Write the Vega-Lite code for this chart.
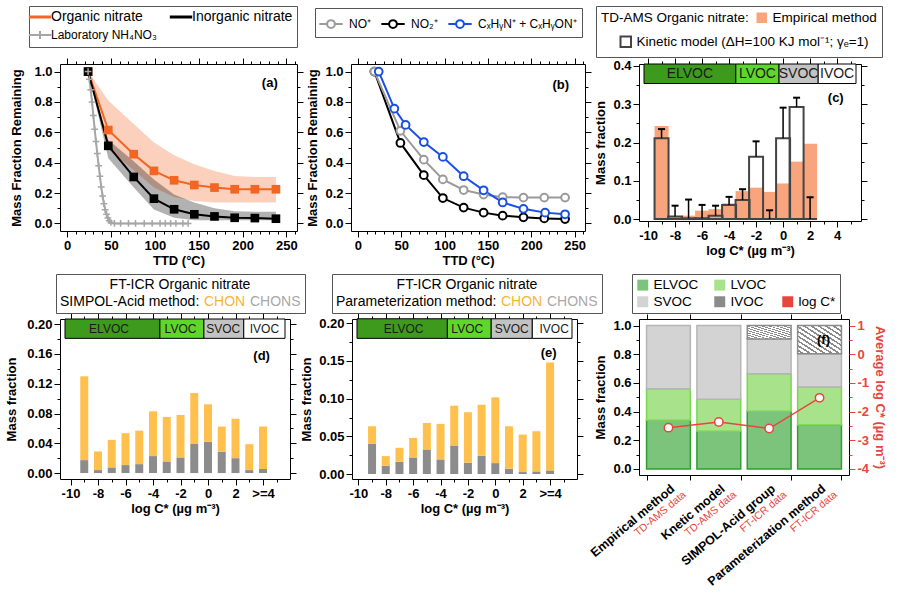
{
"padding": 5,
"background": "white",
"config": {
 "font": "Liberation Sans",
 "view": {"stroke": "#000000", "strokeWidth": 1},
 "axis": {"domain": false, "grid": false, "labelFont": "Liberation Sans", "labelFontSize": 13, "labelFontWeight": "bold", "labelColor": "#000000", "labelPadding": 2, "labelFlush": false, "labelOverlap": false, "tickColor": "#000000", "tickWidth": 1, "titleFont": "Liberation Sans", "titleFontSize": 13, "titleFontWeight": "bold", "titleColor": "#000000"},
 "legend": {"labelFont": "Liberation Sans", "labelFontSize": 13.5, "labelColor": "#000000", "labelLimit": 500, "titleFont": "Liberation Sans", "titleColor": "#000000", "titleFontWeight": "normal", "titleFontSize": 13.5, "strokeColor": "#555555", "fillColor": "#ffffff", "padding": 4, "orient": "none"}
},
"datasets": {
 "a": [
  {"s":"Laboratory NH₄NO₃","T":24,"v":1.0},{"s":"Laboratory NH₄NO₃","T":25.5,"v":0.95},{"s":"Laboratory NH₄NO₃","T":27,"v":0.88},{"s":"Laboratory NH₄NO₃","T":28.5,"v":0.8},{"s":"Laboratory NH₄NO₃","T":30,"v":0.71},{"s":"Laboratory NH₄NO₃","T":31.5,"v":0.62},{"s":"Laboratory NH₄NO₃","T":33,"v":0.54},{"s":"Laboratory NH₄NO₃","T":34.5,"v":0.46},{"s":"Laboratory NH₄NO₃","T":36,"v":0.38},{"s":"Laboratory NH₄NO₃","T":37.5,"v":0.31},{"s":"Laboratory NH₄NO₃","T":39,"v":0.24},{"s":"Laboratory NH₄NO₃","T":40.5,"v":0.18},{"s":"Laboratory NH₄NO₃","T":42,"v":0.13},{"s":"Laboratory NH₄NO₃","T":43.5,"v":0.09},{"s":"Laboratory NH₄NO₃","T":45,"v":0.06},{"s":"Laboratory NH₄NO₃","T":46.5,"v":0.035},{"s":"Laboratory NH₄NO₃","T":48,"v":0.018},{"s":"Laboratory NH₄NO₃","T":50,"v":0.006},{"s":"Laboratory NH₄NO₃","T":54,"v":0},{"s":"Laboratory NH₄NO₃","T":61,"v":0},{"s":"Laboratory NH₄NO₃","T":70,"v":0},{"s":"Laboratory NH₄NO₃","T":78,"v":0},{"s":"Laboratory NH₄NO₃","T":88,"v":0},{"s":"Laboratory NH₄NO₃","T":97,"v":0},{"s":"Laboratory NH₄NO₃","T":106,"v":0},{"s":"Laboratory NH₄NO₃","T":112,"v":0},{"s":"Laboratory NH₄NO₃","T":118,"v":0},{"s":"Laboratory NH₄NO₃","T":124,"v":0},{"s":"Laboratory NH₄NO₃","T":132,"v":0},{"s":"Laboratory NH₄NO₃","T":138,"v":0},
  {"s":"Organic nitrate","T":24,"v":1.0,"lo":1.0,"hi":1.0},{"s":"Organic nitrate","T":47,"v":0.615,"lo":0.49,"hi":0.81},{"s":"Organic nitrate","T":76,"v":0.456,"lo":0.35,"hi":0.654},{"s":"Organic nitrate","T":99,"v":0.346,"lo":0.236,"hi":0.533},{"s":"Organic nitrate","T":122,"v":0.284,"lo":0.174,"hi":0.449},{"s":"Organic nitrate","T":145,"v":0.253,"lo":0.148,"hi":0.39},{"s":"Organic nitrate","T":168,"v":0.236,"lo":0.137,"hi":0.346},{"s":"Organic nitrate","T":191,"v":0.225,"lo":0.137,"hi":0.313},{"s":"Organic nitrate","T":214,"v":0.225,"lo":0.137,"hi":0.306},{"s":"Organic nitrate","T":238,"v":0.225,"lo":0.137,"hi":0.306},
  {"s":"Inorganic nitrate","T":24,"v":1.0,"lo":1.0,"hi":1.0},{"s":"Inorganic nitrate","T":47,"v":0.511,"lo":0.43,"hi":0.55},{"s":"Inorganic nitrate","T":76,"v":0.306,"lo":0.236,"hi":0.41},{"s":"Inorganic nitrate","T":99,"v":0.163,"lo":0.092,"hi":0.29},{"s":"Inorganic nitrate","T":122,"v":0.093,"lo":0.037,"hi":0.19},{"s":"Inorganic nitrate","T":145,"v":0.06,"lo":0.02,"hi":0.137},{"s":"Inorganic nitrate","T":168,"v":0.046,"lo":0.02,"hi":0.1},{"s":"Inorganic nitrate","T":191,"v":0.037,"lo":0.02,"hi":0.08},{"s":"Inorganic nitrate","T":214,"v":0.035,"lo":0.02,"hi":0.077},{"s":"Inorganic nitrate","T":238,"v":0.031,"lo":0.02,"hi":0.077}
 ],
 "b": [
  {"s":"NO₂⁺","T":19,"v":1.0},{"s":"NO₂⁺","T":49,"v":0.53},{"s":"NO₂⁺","T":76,"v":0.318},{"s":"NO₂⁺","T":98,"v":0.167},{"s":"NO₂⁺","T":122,"v":0.104},{"s":"NO₂⁺","T":145,"v":0.071},{"s":"NO₂⁺","T":167,"v":0.051},{"s":"NO₂⁺","T":191,"v":0.04},{"s":"NO₂⁺","T":215,"v":0.033},{"s":"NO₂⁺","T":239,"v":0.029},
  {"s":"NO⁺","T":19,"v":1.0},{"s":"NO⁺","T":49,"v":0.61},{"s":"NO⁺","T":76,"v":0.42},{"s":"NO⁺","T":98,"v":0.29},{"s":"NO⁺","T":122,"v":0.22},{"s":"NO⁺","T":145,"v":0.19},{"s":"NO⁺","T":167,"v":0.173},{"s":"NO⁺","T":191,"v":0.17},{"s":"NO⁺","T":215,"v":0.17},{"s":"NO⁺","T":239,"v":0.17},
  {"s":"CₓHᵧN⁺ + CₓHᵧON⁺","T":24,"v":1.0},{"s":"CₓHᵧN⁺ + CₓHᵧON⁺","T":42,"v":0.756},{"s":"CₓHᵧN⁺ + CₓHᵧON⁺","T":55,"v":0.649},{"s":"CₓHᵧN⁺ + CₓHᵧON⁺","T":76,"v":0.536},{"s":"CₓHᵧN⁺ + CₓHᵧON⁺","T":98,"v":0.438},{"s":"CₓHᵧN⁺ + CₓHᵧON⁺","T":122,"v":0.311},{"s":"CₓHᵧN⁺ + CₓHᵧON⁺","T":145,"v":0.218},{"s":"CₓHᵧN⁺ + CₓHᵧON⁺","T":167,"v":0.138},{"s":"CₓHᵧN⁺ + CₓHᵧON⁺","T":191,"v":0.096},{"s":"CₓHᵧN⁺ + CₓHᵧON⁺","T":216,"v":0.071},{"s":"CₓHᵧN⁺ + CₓHᵧON⁺","T":239,"v":0.06}
 ],
 "c": [
  {"x":-9,"m":"Empirical method","v":0.243},{"x":-8,"m":"Empirical method","v":0.006},{"x":-7,"m":"Empirical method","v":0.009},{"x":-6,"m":"Empirical method","v":0.022},{"x":-5,"m":"Empirical method","v":0.026},{"x":-4,"m":"Empirical method","v":0.041},{"x":-3,"m":"Empirical method","v":0.073},{"x":-2,"m":"Empirical method","v":0.082},{"x":-1,"m":"Empirical method","v":0.071},{"x":0,"m":"Empirical method","v":0.093},{"x":1,"m":"Empirical method","v":0.15},{"x":2,"m":"Empirical method","v":0.197},
  {"x":-9,"m":"Kinetic model (ΔH=100 KJ mol⁻¹; γₑ=1)","v":0.211},{"x":-8,"m":"Kinetic model (ΔH=100 KJ mol⁻¹; γₑ=1)","v":0.007},{"x":-7,"m":"Kinetic model (ΔH=100 KJ mol⁻¹; γₑ=1)","v":0.002},{"x":-6,"m":"Kinetic model (ΔH=100 KJ mol⁻¹; γₑ=1)","v":0.002},{"x":-5,"m":"Kinetic model (ΔH=100 KJ mol⁻¹; γₑ=1)","v":0.009},{"x":-4,"m":"Kinetic model (ΔH=100 KJ mol⁻¹; γₑ=1)","v":0.037},{"x":-3,"m":"Kinetic model (ΔH=100 KJ mol⁻¹; γₑ=1)","v":0.05},{"x":-2,"m":"Kinetic model (ΔH=100 KJ mol⁻¹; γₑ=1)","v":0.163},{"x":-1,"m":"Kinetic model (ΔH=100 KJ mol⁻¹; γₑ=1)","v":0.0},{"x":0,"m":"Kinetic model (ΔH=100 KJ mol⁻¹; γₑ=1)","v":0.211},{"x":1,"m":"Kinetic model (ΔH=100 KJ mol⁻¹; γₑ=1)","v":0.293},{"x":2,"m":"Kinetic model (ΔH=100 KJ mol⁻¹; γₑ=1)","v":0.0}
 ],
 "c_err": [
  {"x":-9,"lo":0.211,"hi":0.235},{"x":-8,"lo":0.007,"hi":0.035},{"x":-7,"lo":0.002,"hi":0.051},{"x":-6,"lo":0.002,"hi":0.037},{"x":-5,"lo":0.009,"hi":0.035},{"x":-4,"lo":0.037,"hi":0.058},{"x":-3,"lo":0.05,"hi":0.078},{"x":-2,"lo":0.163,"hi":0.203},{"x":-1,"lo":0.0,"hi":0.023},{"x":0,"lo":0.211,"hi":0.291},{"x":1,"lo":0.293,"hi":0.317},{"x":2,"lo":0.0,"hi":0.057}
 ],
 "c_band": [
  {"name":"ELVOC","x0":-10.3,"x1":-3.5,"xm":-6.9,"y0":0.354,"y1":0.405,"ym":0.379},
  {"name":"LVOC","x0":-3.5,"x1":-0.3,"xm":-1.9,"y0":0.354,"y1":0.405,"ym":0.379},
  {"name":"SVOC","x0":-0.3,"x1":2.6,"xm":1.15,"y0":0.354,"y1":0.405,"ym":0.379},
  {"name":"IVOC","x0":2.6,"x1":5.4,"xm":4.0,"y0":0.354,"y1":0.405,"ym":0.379}
 ],
 "d": [
  {"x":-9,"g":"CHONS","v":0.0174},{"x":-9,"g":"CHON","v":0.1126},{"x":-8,"g":"CHONS","v":0.004},{"x":-8,"g":"CHON","v":0.025},{"x":-7,"g":"CHONS","v":0.0076},{"x":-7,"g":"CHON","v":0.037},{"x":-6,"g":"CHONS","v":0.0107},{"x":-6,"g":"CHON","v":0.0429},{"x":-5,"g":"CHONS","v":0.012},{"x":-5,"g":"CHON","v":0.045},{"x":-4,"g":"CHONS","v":0.0228},{"x":-4,"g":"CHON","v":0.0602},{"x":-3,"g":"CHONS","v":0.0156},{"x":-3,"g":"CHON","v":0.0598},{"x":-2,"g":"CHONS","v":0.021},{"x":-2,"g":"CHON","v":0.057},{"x":-1,"g":"CHONS","v":0.039},{"x":-1,"g":"CHON","v":0.0686},{"x":0,"g":"CHONS","v":0.042},{"x":0,"g":"CHON","v":0.0504},{"x":1,"g":"CHONS","v":0.0286},{"x":1,"g":"CHON","v":0.0339},{"x":2,"g":"CHONS","v":0.02},{"x":2,"g":"CHON","v":0.053},{"x":3,"g":"CHONS","v":0.004},{"x":3,"g":"CHON","v":0.0348},{"x":4,"g":"CHONS","v":0.0054},{"x":4,"g":"CHON","v":0.0571}
 ],
 "d_band": [
  {"name":"ELVOC","x0":-10.4,"x1":-3.5,"xm":-7.2,"y0":0.181,"y1":0.207,"ym":0.194},
  {"name":"LVOC","x0":-3.5,"x1":-0.3,"xm":-2.0,"y0":0.181,"y1":0.207,"ym":0.194},
  {"name":"SVOC","x0":-0.3,"x1":2.6,"xm":1.1,"y0":0.181,"y1":0.207,"ym":0.194},
  {"name":"IVOC","x0":2.6,"x1":5.6,"xm":4.1,"y0":0.181,"y1":0.207,"ym":0.194}
 ],
 "e": [
  {"x":-9,"g":"CHONS","v":0.04},{"x":-9,"g":"CHON","v":0.0234},{"x":-8,"g":"CHONS","v":0.011},{"x":-8,"g":"CHON","v":0.0128},{"x":-7,"g":"CHONS","v":0.0163},{"x":-7,"g":"CHON","v":0.0185},{"x":-6,"g":"CHONS","v":0.022},{"x":-6,"g":"CHON","v":0.026},{"x":-5,"g":"CHONS","v":0.0326},{"x":-5,"g":"CHON","v":0.0352},{"x":-4,"g":"CHONS","v":0.0194},{"x":-4,"g":"CHON","v":0.0471},{"x":-3,"g":"CHONS","v":0.0379},{"x":-3,"g":"CHON","v":0.0528},{"x":-2,"g":"CHONS","v":0.015},{"x":-2,"g":"CHON","v":0.067},{"x":-1,"g":"CHONS","v":0.0242},{"x":-1,"g":"CHON","v":0.0678},{"x":0,"g":"CHONS","v":0.0145},{"x":0,"g":"CHON","v":0.0873},{"x":1,"g":"CHONS","v":0.007},{"x":1,"g":"CHON","v":0.0564},{"x":2,"g":"CHONS","v":0.0026},{"x":2,"g":"CHON","v":0.0498},{"x":3,"g":"CHONS","v":0.0035},{"x":3,"g":"CHON","v":0.0533},{"x":4,"g":"CHONS","v":0.0048},{"x":4,"g":"CHON","v":0.1432}
 ],
 "e_band": [
  {"name":"ELVOC","x0":-10.1,"x1":-3.5,"xm":-6.7,"y0":0.18,"y1":0.206,"ym":0.193},
  {"name":"LVOC","x0":-3.5,"x1":-0.3,"xm":-2.05,"y0":0.18,"y1":0.206,"ym":0.193},
  {"name":"SVOC","x0":-0.3,"x1":2.7,"xm":1.2,"y0":0.18,"y1":0.206,"ym":0.193},
  {"name":"IVOC","x0":2.7,"x1":5.6,"xm":4.3,"y0":0.18,"y1":0.206,"ym":0.193}
 ],
 "f": [
  {"m":"Empirical method","seg":"ELVOC","k":1,"v":0.34},{"m":"Empirical method","seg":"LVOC","k":2,"v":0.22},{"m":"Empirical method","seg":"SVOC","k":3,"v":0.44},
  {"m":"Knetic model","seg":"ELVOC","k":1,"v":0.264},{"m":"Knetic model","seg":"LVOC","k":2,"v":0.222},{"m":"Knetic model","seg":"SVOC","k":3,"v":0.514},
  {"m":"SIMPOL-Acid group","seg":"ELVOC","k":1,"v":0.403},{"m":"SIMPOL-Acid group","seg":"LVOC","k":2,"v":0.261},{"m":"SIMPOL-Acid group","seg":"SVOC","k":3,"v":0.243},{"m":"SIMPOL-Acid group","seg":"IVOC","k":4,"v":0.093},
  {"m":"Parameterization method","seg":"ELVOC","k":1,"v":0.306},{"m":"Parameterization method","seg":"LVOC","k":2,"v":0.266},{"m":"Parameterization method","seg":"SVOC","k":3,"v":0.231},{"m":"Parameterization method","seg":"IVOC","k":4,"v":0.197}
 ],
 "f_line": [
  {"m":"Empirical method","lc":-2.56},{"m":"Knetic model","lc":-2.36},{"m":"SIMPOL-Acid group","lc":-2.59},{"m":"Parameterization method","lc":-1.52}
 ]
},
"spacing": 5,
"resolve": {"scale": {"color": "independent", "fill": "independent", "stroke": "independent"}, "legend": {"color": "independent", "fill": "independent", "stroke": "independent"}},
"vconcat": [
 {"hconcat": [
  {
   "width": 237, "height": 167,
   "data": {"name": "a"},
   "layer": [
    {"transform": [{"filter": "isValid(datum.lo)"}],
     "mark": {"type": "area", "fillOpacity": 0.3},
     "encoding": {
      "x": {"field": "T", "type": "quantitative", "scale": {"domain": [-8, 262], "nice": false, "zero": false},
            "axis": {"orient": "bottom", "values": [0,10,20,30,40,50,60,70,80,90,100,110,120,130,140,150,160,170,180,190,200,210,220,230,240,250,260], "labelExpr": "datum.value % 50 === 0 ? datum.label : ''", "tickSize": {"condition": {"test": "datum.value % 50 !== 0", "value": 3}, "value": 6}, "title": "TTD (°C)", "titlePadding": 2}},
      "y": {"field": "lo", "type": "quantitative", "scale": {"domain": [-0.05, 1.05], "nice": false, "zero": false},
            "axis": {"orient": "left", "values": [0,0.1,0.2,0.3,0.4,0.5,0.6,0.7,0.8,0.9,1], "labelExpr": "round(datum.value*10) % 2 === 0 ? format(datum.value, '.1f') : ''", "tickSize": {"condition": {"test": "round(datum.value*10) % 2 !== 0", "value": 3}, "value": 6}, "title": "Mass Fraction Remaining", "titlePadding": 10}},
      "y2": {"field": "hi"},
      "fill": {"field": "s", "type": "nominal", "scale": {"domain": ["Organic nitrate", "Inorganic nitrate"], "range": ["#f26522", "#000000"]}, "legend": null}
     }},
    {"mark": {"type": "line", "strokeWidth": 2},
     "encoding": {
      "x": {"field": "T", "type": "quantitative", "scale": {"domain": [-8, 262], "nice": false, "zero": false},
            "axis": {"orient": "top", "values": [0,10,20,30,40,50,60,70,80,90,100,110,120,130,140,150,160,170,180,190,200,210,220,230,240,250,260], "labels": false, "tickSize": {"condition": {"test": "datum.value % 50 !== 0", "value": 3}, "value": 6}, "title": null}},
      "y": {"field": "v", "type": "quantitative", "scale": {"domain": [-0.05, 1.05], "nice": false, "zero": false},
            "axis": {"orient": "right", "values": [0,0.1,0.2,0.3,0.4,0.5,0.6,0.7,0.8,0.9,1], "labels": false, "tickSize": {"condition": {"test": "round(datum.value*10) % 2 !== 0", "value": 3}, "value": 6}, "title": null}},
      "color": {"field": "s", "type": "nominal", "scale": {"domain": ["Organic nitrate", "Inorganic nitrate", "Laboratory NH₄NO₃"], "range": ["#f26522", "#000000", "#a6a6a6"]},
        "legend": {"orient": "none", "legendX": -31, "legendY": -58, "title": null, "columns": 2, "direction": "horizontal", "symbolType": "stroke", "symbolSize": 500, "symbolStrokeWidth": 3, "labelFontSize": 14, "columnPadding": 6, "rowPadding": 3, "padding": 4,
          "encode": {"symbols": {"update": {
            "shape": {"signal": "datum.value === 'Laboratory NH₄NO₃' ? 'M-1,0L1,0M0,-0.35L0,0.35' : 'stroke'"},
            "strokeWidth": {"signal": "datum.value === 'Laboratory NH₄NO₃' ? 2 : 3"},
            "stroke": {"signal": "datum.value === 'Organic nitrate' ? '#f26522' : datum.value === 'Inorganic nitrate' ? '#000000' : '#a6a6a6'"},
            "fill": {"value": "transparent"},
            "opacity": {"value": 1}}},
           "labels": {"update": {"fontSize": {"signal": "datum.value === 'Laboratory NH₄NO₃' ? 12 : 14"}}}}}}
     }},
    {"transform": [{"filter": "datum.s !== 'Laboratory NH₄NO₃'"}],
     "mark": {"type": "point", "shape": "square", "filled": true, "size": 75, "opacity": 1},
     "encoding": {
      "x": {"field": "T", "type": "quantitative", "scale": {"domain": [-8, 262], "nice": false, "zero": false}, "axis": null},
      "y": {"field": "v", "type": "quantitative", "scale": {"domain": [-0.05, 1.05], "nice": false, "zero": false}, "axis": null},
      "color": {"field": "s", "type": "nominal"}
     }},
    {"transform": [{"filter": "datum.s === 'Laboratory NH₄NO₃'"}],
     "mark": {"type": "point", "shape": "M-1,0L1,0M0,-1L0,1", "filled": false, "size": 45, "strokeWidth": 1.5, "opacity": 1},
     "encoding": {
      "x": {"field": "T", "type": "quantitative", "scale": {"domain": [-8, 262], "nice": false, "zero": false}, "axis": null},
      "y": {"field": "v", "type": "quantitative", "scale": {"domain": [-0.05, 1.05], "nice": false, "zero": false}, "axis": null},
      "color": {"field": "s", "type": "nominal"}
     }},
    {"data": {"values": [{}]},
     "mark": {"type": "text", "text": "(a)", "fontWeight": "bold", "fontSize": 13},
     "encoding": {"x": {"datum": 231, "type": "quantitative", "axis": null}, "y": {"datum": 0.925, "type": "quantitative", "axis": null}}}
   ],
   "resolve": {"axis": {"x": "independent", "y": "independent"}}
  },
  {
   "width": 234, "height": 167,
   "data": {"name": "b"},
   "layer": [
    {"mark": {"type": "line", "strokeWidth": 2},
     "encoding": {
      "x": {"field": "T", "type": "quantitative", "scale": {"domain": [-8, 262], "nice": false, "zero": false},
            "axis": {"orient": "bottom", "values": [0,10,20,30,40,50,60,70,80,90,100,110,120,130,140,150,160,170,180,190,200,210,220,230,240,250,260], "labelExpr": "datum.value % 50 === 0 ? datum.label : ''", "tickSize": {"condition": {"test": "datum.value % 50 !== 0", "value": 3}, "value": 6}, "title": "TTD (°C)", "titlePadding": 2}},
      "y": {"field": "v", "type": "quantitative", "scale": {"domain": [-0.05, 1.05], "nice": false, "zero": false},
            "axis": {"orient": "left", "values": [0,0.1,0.2,0.3,0.4,0.5,0.6,0.7,0.8,0.9,1], "labelExpr": "round(datum.value*10) % 2 === 0 ? format(datum.value, '.1f') : ''", "tickSize": {"condition": {"test": "round(datum.value*10) % 2 !== 0", "value": 3}, "value": 6}, "title": "Mass Fraction Remaining", "titlePadding": 5}},
      "stroke": {"field": "s", "type": "nominal", "scale": {"domain": ["NO⁺", "NO₂⁺", "CₓHᵧN⁺ + CₓHᵧON⁺"], "range": ["#9a9a9a", "#000000", "#1a4fe6"]},
        "legend": {"orient": "none", "legendX": -36, "legendY": -56, "title": null, "direction": "horizontal", "columns": 3, "symbolType": "M-1.2,0L-0.4,0M0.4,0L1.2,0M-0.4,0A0.4,0.4,0,1,0,0.4,0A0.4,0.4,0,1,0,-0.4,0", "symbolSize": 380, "symbolStrokeWidth": 2, "labelFontSize": 12, "labelOffset": 7, "columnPadding": 6, "padding": 5,
          "encode": {"symbols": {"update": {
            "fill": {"value": "#ffffff"},
            "stroke": {"signal": "datum.value === 'NO⁺' ? '#9a9a9a' : datum.value === 'NO₂⁺' ? '#000000' : '#1a4fe6'"},
            "strokeWidth": {"value": 2},
            "opacity": {"value": 1}}}}}}
     }},
    {"mark": {"type": "point", "shape": "circle", "filled": true, "fill": "#ffffff", "size": 60, "strokeWidth": 2, "opacity": 1},
     "encoding": {
      "x": {"field": "T", "type": "quantitative", "scale": {"domain": [-8, 262], "nice": false, "zero": false},
            "axis": {"orient": "top", "values": [0,10,20,30,40,50,60,70,80,90,100,110,120,130,140,150,160,170,180,190,200,210,220,230,240,250,260], "labels": false, "tickSize": {"condition": {"test": "datum.value % 50 !== 0", "value": 3}, "value": 6}, "title": null}},
      "y": {"field": "v", "type": "quantitative", "scale": {"domain": [-0.05, 1.05], "nice": false, "zero": false},
            "axis": {"orient": "right", "values": [0,0.1,0.2,0.3,0.4,0.5,0.6,0.7,0.8,0.9,1], "labels": false, "tickSize": {"condition": {"test": "round(datum.value*10) % 2 !== 0", "value": 3}, "value": 6}, "title": null}},
      "stroke": {"field": "s", "type": "nominal"}
     }},
    {"data": {"values": [{}]},
     "mark": {"type": "text", "text": "(b)", "fontWeight": "bold", "fontSize": 13},
     "encoding": {"x": {"datum": 234, "type": "quantitative", "axis": null}, "y": {"datum": 0.91, "type": "quantitative", "axis": null}}}
   ],
   "resolve": {"axis": {"x": "independent", "y": "independent"}}
  },
  {
   "width": 222, "height": 157,
   "layer": [
    {"data": {"name": "c_band"},
     "mark": {"type": "rect", "stroke": "#000000", "strokeWidth": 1},
     "encoding": {
      "x": {"field": "x0", "type": "quantitative", "scale": {"domain": [-10.3, 5.4], "nice": false, "zero": false},
            "axis": {"orient": "top", "values": [-10,-9,-8,-7,-6,-5,-4,-3,-2,-1,0,1,2,3,4,5], "labels": false, "tickSize": {"condition": {"test": "datum.value % 2 !== 0", "value": 3}, "value": 6}, "title": null}},
      "x2": {"field": "x1"},
      "y": {"field": "y0", "type": "quantitative", "scale": {"domain": [-0.005, 0.405], "nice": false, "zero": false},
            "axis": {"orient": "right", "values": [0,0.05,0.1,0.15,0.2,0.25,0.3,0.35,0.4], "labels": false, "tickSize": {"condition": {"test": "round(datum.value*100) % 10 !== 0", "value": 3}, "value": 6}, "title": null}},
      "y2": {"field": "y1"},
      "fill": {"field": "name", "type": "nominal", "scale": {"domain": ["ELVOC", "LVOC", "SVOC", "IVOC"], "range": ["#3d9a1d", "#5fd62a", "#c3c3c3", "#ffffff"]}, "legend": null}
     }},
    {"data": {"name": "c_band"},
     "mark": {"type": "text", "fontSize": 14, "color": "#1a1a1a"},
     "encoding": {
      "x": {"field": "xm", "type": "quantitative", "axis": null},
      "y": {"field": "ym", "type": "quantitative", "axis": null},
      "text": {"field": "name"}
     }},
    {"data": {"name": "c"},
     "transform": [{"filter": "datum.m === 'Empirical method'"}],
     "mark": {"type": "bar", "width": 14, "opacity": 1},
     "encoding": {
      "x": {"field": "x", "type": "quantitative", "scale": {"domain": [-10.3, 5.4], "nice": false, "zero": false},
            "axis": {"orient": "bottom", "values": [-10,-9,-8,-7,-6,-5,-4,-3,-2,-1,0,1,2,3,4,5], "labelExpr": "datum.value % 2 === 0 && datum.value <= 4 ? datum.value + '' : ''", "tickSize": {"condition": {"test": "datum.value % 2 !== 0", "value": 3}, "value": 6}, "title": "log C* (µg m⁻³)", "titlePadding": 2}},
      "y": {"field": "v", "type": "quantitative", "scale": {"domain": [-0.005, 0.405], "nice": false, "zero": false},
            "axis": {"orient": "left", "values": [0,0.05,0.1,0.15,0.2,0.25,0.3,0.35,0.4], "labelExpr": "round(datum.value*100) % 10 === 0 ? format(datum.value, '.1f') : ''", "tickSize": {"condition": {"test": "round(datum.value*100) % 10 !== 0", "value": 3}, "value": 6}, "title": "Mass fraction", "titlePadding": 5}},
      "color": {"field": "m", "type": "nominal", "scale": {"domain": ["Empirical method", " "], "range": ["#f8a47c", "#ffffff"]},
        "legend": {"orient": "none", "legendX": -43, "legendY": -58, "title": "TD-AMS Organic nitrate:", "titleOrient": "left", "titleAnchor": "start", "titleFontSize": 13.5, "titlePadding": 6, "direction": "vertical", "columns": 1, "symbolType": "square", "symbolSize": 110, "labelFontSize": 13.5, "rowPadding": 12, "padding": 5,
          "encode": {"symbols": {"update": {"opacity": {"signal": "datum.value === ' ' ? 0 : 1"}}}}}}
     }},
    {"data": {"name": "c"},
     "transform": [{"filter": "datum.m !== 'Empirical method'"}],
     "mark": {"type": "bar", "width": 14, "filled": false, "strokeWidth": 2, "opacity": 1},
     "encoding": {
      "x": {"field": "x", "type": "quantitative", "axis": null},
      "y": {"field": "v", "type": "quantitative", "axis": null},
      "stroke": {"field": "m", "type": "nominal", "scale": {"domain": ["Kinetic model (ΔH=100 KJ mol⁻¹; γₑ=1)"], "range": ["#444444"]},
        "legend": {"orient": "none", "legendX": -20, "legendY": -29, "title": null, "symbolType": "square", "symbolSize": 110, "symbolStrokeWidth": 2, "labelFontSize": 13.5, "padding": 0, "strokeColor": "transparent", "fillColor": "transparent"}}
     }},
    {"data": {"name": "c_err"},
     "mark": {"type": "rule", "color": "#000000", "strokeWidth": 1.5},
     "encoding": {
      "x": {"field": "x", "type": "quantitative", "axis": null},
      "y": {"field": "lo", "type": "quantitative", "axis": null},
      "y2": {"field": "hi"}
     }},
    {"data": {"name": "c_err"},
     "mark": {"type": "tick", "orient": "horizontal", "color": "#000000", "size": 7, "thickness": 2, "opacity": 1},
     "encoding": {
      "x": {"field": "x", "type": "quantitative", "axis": null},
      "y": {"field": "hi", "type": "quantitative", "axis": null}
     }},
    {"data": {"values": [{}]},
     "mark": {"type": "text", "text": "(c)", "fontWeight": "bold", "fontSize": 13},
     "encoding": {"x": {"datum": 3.9, "type": "quantitative", "axis": null}, "y": {"datum": 0.315, "type": "quantitative", "axis": null}}}
   ],
   "resolve": {"axis": {"x": "independent", "y": "independent"}}
  }
 ], "spacing": 54, "bounds": "flush",
 "resolve": {"scale": {"color": "independent", "fill": "independent", "stroke": "independent"}, "legend": {"color": "independent", "fill": "independent", "stroke": "independent"}}},
 {"hconcat": [
  {
   "width": 230, "height": 160,
   "layer": [
    {"data": {"name": "d_band"},
     "mark": {"type": "rect", "stroke": "#000000", "strokeWidth": 1},
     "encoding": {
      "x": {"field": "x0", "type": "quantitative", "scale": {"domain": [-10.4, 5.6], "nice": false, "zero": false},
            "axis": {"orient": "top", "values": [-10,-9,-8,-7,-6,-5,-4,-3,-2,-1,0,1,2,3,4,5], "labels": false, "tickSize": {"condition": {"test": "datum.value % 2 !== 0", "value": 3}, "value": 6}, "title": null}},
      "x2": {"field": "x1"},
      "y": {"field": "y0", "type": "quantitative", "scale": {"domain": [-0.008, 0.207], "nice": false, "zero": false},
            "axis": {"orient": "right", "values": [0,0.02,0.04,0.06,0.08,0.1,0.12,0.14,0.16,0.18,0.2], "labels": false, "tickSize": {"condition": {"test": "round(datum.value*100) % 4 !== 0", "value": 3}, "value": 6}, "title": null}},
      "y2": {"field": "y1"},
      "fill": {"field": "name", "type": "nominal", "scale": {"domain": ["ELVOC", "LVOC", "SVOC", "IVOC"], "range": ["#3d9a1d", "#5fd62a", "#c3c3c3", "#ffffff"]}, "legend": null}
     }},
    {"data": {"name": "d_band"},
     "mark": {"type": "text", "fontSize": 12, "color": "#1a1a1a"},
     "encoding": {
      "x": {"field": "xm", "type": "quantitative", "axis": null},
      "y": {"field": "ym", "type": "quantitative", "axis": null},
      "text": {"field": "name"}
     }},
    {"data": {"name": "d"},
     "mark": {"type": "bar", "width": 8, "opacity": 1},
     "encoding": {
      "x": {"field": "x", "type": "quantitative", "scale": {"domain": [-10.4, 5.6], "nice": false, "zero": false},
            "axis": {"orient": "bottom", "values": [-10,-9,-8,-7,-6,-5,-4,-3,-2,-1,0,1,2,3,4,5], "labelExpr": "datum.value === 4 ? '>=4' : (datum.value < 4 && datum.value % 2 === 0 ? datum.value + '' : '')", "tickSize": {"condition": {"test": "datum.value % 2 !== 0", "value": 3}, "value": 6}, "title": "log C* (µg m⁻³)", "titlePadding": 2}},
      "y": {"field": "v", "type": "quantitative", "stack": "zero", "scale": {"domain": [-0.008, 0.207], "nice": false, "zero": false},
            "axis": {"orient": "left", "values": [0,0.02,0.04,0.06,0.08,0.1,0.12,0.14,0.16,0.18,0.2], "labelExpr": "round(datum.value*100) % 4 === 0 ? format(datum.value, '.2f') : ''", "tickSize": {"condition": {"test": "round(datum.value*100) % 4 !== 0", "value": 3}, "value": 6}, "title": "Mass fraction", "titlePadding": 8}},
      "color": {"field": "g", "type": "nominal", "scale": {"domain": ["SIMPOL-Acid method:", "CHON", "CHONS"], "range": ["#000000", "#ffc04d", "#8c8c8c"]},
        "legend": {"orient": "none", "legendX": -4, "legendY": -45, "title": "FT-ICR Organic nitrate", "titleAnchor": "middle", "titleFontSize": 14, "titlePadding": 3, "direction": "horizontal", "columns": 3, "symbolSize": 0, "symbolOpacity": 0, "symbolStrokeWidth": 0, "labelOffset": 0, "columnPadding": 4, "labelFontSize": 14, "padding": 4,
          "encode": {"labels": {"update": {"dx": {"value": -14}, "fill": {"signal": "datum.value === 'CHON' ? '#f7b538' : datum.value === 'CHONS' ? '#a8a8a8' : '#000000'"}}}}}},
      "order": {"field": "g", "type": "nominal", "sort": "descending"}
     }},
    {"data": {"values": [{}]},
     "mark": {"type": "text", "text": "(d)", "fontWeight": "bold", "fontSize": 13},
     "encoding": {"x": {"datum": 3.9, "type": "quantitative", "axis": null}, "y": {"datum": 0.157, "type": "quantitative", "axis": null}}}
   ],
   "resolve": {"axis": {"x": "independent", "y": "independent"}}
  },
  {
   "width": 225, "height": 160,
   "layer": [
    {"data": {"name": "e_band"},
     "mark": {"type": "rect", "stroke": "#000000", "strokeWidth": 1},
     "encoding": {
      "x": {"field": "x0", "type": "quantitative", "scale": {"domain": [-10.1, 5.6], "nice": false, "zero": false},
            "axis": {"orient": "top", "values": [-10,-9,-8,-7,-6,-5,-4,-3,-2,-1,0,1,2,3,4,5], "labels": false, "tickSize": {"condition": {"test": "datum.value % 2 !== 0", "value": 3}, "value": 6}, "title": null}},
      "x2": {"field": "x1"},
      "y": {"field": "y0", "type": "quantitative", "scale": {"domain": [-0.0066, 0.2057], "nice": false, "zero": false},
            "axis": {"orient": "right", "values": [0,0.025,0.05,0.075,0.1,0.125,0.15,0.175,0.2], "labels": false, "tickSize": {"condition": {"test": "round(datum.value*1000) % 50 !== 0", "value": 3}, "value": 6}, "title": null}},
      "y2": {"field": "y1"},
      "fill": {"field": "name", "type": "nominal", "scale": {"domain": ["ELVOC", "LVOC", "SVOC", "IVOC"], "range": ["#3d9a1d", "#5fd62a", "#c3c3c3", "#ffffff"]}, "legend": null}
     }},
    {"data": {"name": "e_band"},
     "mark": {"type": "text", "fontSize": 12, "color": "#1a1a1a"},
     "encoding": {
      "x": {"field": "xm", "type": "quantitative", "axis": null},
      "y": {"field": "ym", "type": "quantitative", "axis": null},
      "text": {"field": "name"}
     }},
    {"data": {"name": "e"},
     "mark": {"type": "bar", "width": 8, "opacity": 1},
     "encoding": {
      "x": {"field": "x", "type": "quantitative", "scale": {"domain": [-10.1, 5.6], "nice": false, "zero": false},
            "axis": {"orient": "bottom", "values": [-10,-9,-8,-7,-6,-5,-4,-3,-2,-1,0,1,2,3,4,5], "labelExpr": "datum.value === 4 ? '>=4' : (datum.value < 4 && datum.value % 2 === 0 ? datum.value + '' : '')", "tickSize": {"condition": {"test": "datum.value % 2 !== 0", "value": 3}, "value": 6}, "title": "log C* (µg m⁻³)", "titlePadding": 2}},
      "y": {"field": "v", "type": "quantitative", "stack": "zero", "scale": {"domain": [-0.0066, 0.2057], "nice": false, "zero": false},
            "axis": {"orient": "left", "values": [0,0.025,0.05,0.075,0.1,0.125,0.15,0.175,0.2], "labelExpr": "round(datum.value*1000) % 50 === 0 ? format(datum.value, '.2f') : ''", "tickSize": {"condition": {"test": "round(datum.value*1000) % 50 !== 0", "value": 3}, "value": 6}, "title": "Mass fraction", "titlePadding": 5}},
      "color": {"field": "g", "type": "nominal", "scale": {"domain": ["Parameterization method:", "CHON", "CHONS"], "range": ["#000000", "#ffc04d", "#8c8c8c"]},
        "legend": {"orient": "none", "legendX": -20, "legendY": -45, "title": "FT-ICR Organic nitrate", "titleAnchor": "middle", "titleFontSize": 14, "titlePadding": 3, "direction": "horizontal", "columns": 3, "symbolSize": 0, "symbolOpacity": 0, "symbolStrokeWidth": 0, "labelOffset": 0, "columnPadding": 4, "labelFontSize": 14, "padding": 4,
          "encode": {"labels": {"update": {"dx": {"value": -14}, "fill": {"signal": "datum.value === 'CHON' ? '#f7b538' : datum.value === 'CHONS' ? '#a8a8a8' : '#000000'"}}}}}},
      "order": {"field": "g", "type": "nominal", "sort": "descending"}
     }},
    {"data": {"values": [{}]},
     "mark": {"type": "text", "text": "(e)", "fontWeight": "bold", "fontSize": 13},
     "encoding": {"x": {"datum": 3.9, "type": "quantitative", "axis": null}, "y": {"datum": 0.161, "type": "quantitative", "axis": null}}}
   ],
   "resolve": {"axis": {"x": "independent", "y": "independent"}}
  },
  {
   "width": 210, "height": 156,
   "layer": [
    {"data": {"name": "f"},
     "mark": {"type": "bar", "strokeWidth": 1.5, "opacity": 1},
     "encoding": {
      "x": {"field": "m", "type": "nominal", "scale": {"type": "band", "domain": ["Empirical method", "Knetic model", "SIMPOL-Acid group", "Parameterization method"], "paddingInner": 0.13, "paddingOuter": 0.15},
            "axis": {"orient": "bottom", "labelAngle": -40, "tickBand": "extent", "tickSize": 5, "title": null, "labelFontSize": 12.5}},
      "y": {"field": "v", "type": "quantitative", "stack": "zero", "scale": {"domain": [-0.042, 1.046], "nice": false, "zero": false},
            "axis": {"orient": "left", "values": [0,0.1,0.2,0.3,0.4,0.5,0.6,0.7,0.8,0.9,1], "labelExpr": "round(datum.value*10) % 2 === 0 ? format(datum.value, '.1f') : ''", "tickSize": {"condition": {"test": "round(datum.value*10) % 2 !== 0", "value": 3}, "value": 6}, "title": "Mass fraction", "titlePadding": 5}},
      "fill": {"field": "seg", "type": "nominal",
        "scale": {"domain": ["ELVOC", "LVOC", " ", "SVOC", "IVOC", "log C*"], "range": ["#7cc47c", "#a8e28a", "#ffffff", "#d3d3d3", "#8a8a8a", "#e8453c"]},
        "condition": {"test": "datum.seg === 'IVOC'", "value": {"gradient": "linear", "x1": 0, "y1": 1, "x2": 1, "y2": 0, "stops": [
          {"offset":0,"color":"#ffffff"},{"offset":0.05,"color":"#ffffff"},{"offset":0.05,"color":"#8a8a8a"},{"offset":0.0833,"color":"#8a8a8a"},
          {"offset":0.0833,"color":"#ffffff"},{"offset":0.1333,"color":"#ffffff"},{"offset":0.1333,"color":"#8a8a8a"},{"offset":0.1667,"color":"#8a8a8a"},
          {"offset":0.1667,"color":"#ffffff"},{"offset":0.2167,"color":"#ffffff"},{"offset":0.2167,"color":"#8a8a8a"},{"offset":0.25,"color":"#8a8a8a"},
          {"offset":0.25,"color":"#ffffff"},{"offset":0.3,"color":"#ffffff"},{"offset":0.3,"color":"#8a8a8a"},{"offset":0.3333,"color":"#8a8a8a"},
          {"offset":0.3333,"color":"#ffffff"},{"offset":0.3833,"color":"#ffffff"},{"offset":0.3833,"color":"#8a8a8a"},{"offset":0.4167,"color":"#8a8a8a"},
          {"offset":0.4167,"color":"#ffffff"},{"offset":0.4667,"color":"#ffffff"},{"offset":0.4667,"color":"#8a8a8a"},{"offset":0.5,"color":"#8a8a8a"},
          {"offset":0.5,"color":"#ffffff"},{"offset":0.55,"color":"#ffffff"},{"offset":0.55,"color":"#8a8a8a"},{"offset":0.5833,"color":"#8a8a8a"},
          {"offset":0.5833,"color":"#ffffff"},{"offset":0.6333,"color":"#ffffff"},{"offset":0.6333,"color":"#8a8a8a"},{"offset":0.6667,"color":"#8a8a8a"},
          {"offset":0.6667,"color":"#ffffff"},{"offset":0.7167,"color":"#ffffff"},{"offset":0.7167,"color":"#8a8a8a"},{"offset":0.75,"color":"#8a8a8a"},
          {"offset":0.75,"color":"#ffffff"},{"offset":0.8,"color":"#ffffff"},{"offset":0.8,"color":"#8a8a8a"},{"offset":0.8333,"color":"#8a8a8a"},
          {"offset":0.8333,"color":"#ffffff"},{"offset":0.8833,"color":"#ffffff"},{"offset":0.8833,"color":"#8a8a8a"},{"offset":0.9167,"color":"#8a8a8a"},
          {"offset":0.9167,"color":"#ffffff"},{"offset":0.9667,"color":"#ffffff"},{"offset":0.9667,"color":"#8a8a8a"},{"offset":1,"color":"#8a8a8a"}]}},
        "legend": {"orient": "none", "legendX": -7, "legendY": -45, "title": null, "columns": 3, "direction": "horizontal", "symbolType": "square", "symbolSize": 120, "labelFontSize": 13.5, "columnPadding": 14, "rowPadding": 2, "padding": 4,
          "encode": {"symbols": {"update": {
            "shape": {"signal": "datum.value === 'log C*' ? 'M-1.4,-0.12L-0.5,-0.12L-0.5,0.12L-1.4,0.12Z M0.5,-0.12L1.4,-0.12L1.4,0.12L0.5,0.12Z M-0.55,0A0.55,0.55,0,1,1,0.55,0A0.55,0.55,0,1,1,-0.55,0Z M-0.35,0A0.35,0.35,0,1,0,0.35,0A0.35,0.35,0,1,0,-0.35,0Z' : datum.value === 'IVOC' ? 'M-1,-1L1,-1L1,-0.85L-1,-0.85Z M-1,0.85L1,0.85L1,1L-1,1Z M-1,-1L-0.85,-1L-0.85,1L-1,1Z M0.85,-1L1,-1L1,1L0.85,1Z M-1,-1L-0.8,-1L1,0.8L1,1L0.8,1L-1,-0.8Z M-0.2,-1L0.15,-1L1,-0.15L1,0.2Z M-1,-0.15L0.2,1L-0.15,1L-1,0.15Z' : 'square'"},
            "opacity": {"signal": "datum.value === ' ' ? 0 : 1"}}}}}},
      "stroke": {"field": "seg", "type": "nominal", "scale": {"domain": ["ELVOC", "LVOC", "SVOC", "IVOC"], "range": ["#2e9e2e", "#7ad651", "#b5b5b5", "#8a8a8a"]}, "legend": null},
      "order": {"field": "k", "type": "quantitative"}
     }},
    {"data": {"name": "f_line"},
     "mark": {"type": "line", "color": "#e8453c", "strokeWidth": 1.5},
     "encoding": {
      "x": {"field": "m", "type": "nominal", "scale": {"type": "band", "domain": ["Empirical method", "Knetic model", "SIMPOL-Acid group", "Parameterization method"], "paddingInner": 0.13, "paddingOuter": 0.15},
            "axis": {"orient": "bottom", "labelAngle": -40, "labelExpr": "datum.label === 'Empirical method' || datum.label === 'Knetic model' ? 'TD-AMS data' : 'FT-ICR data'", "labelColor": "#e8453c", "labelFontSize": 10.5, "labelFontWeight": "normal", "ticks": false, "labelPadding": 14, "labelOffset": 13, "title": null}},
      "y": {"field": "lc", "type": "quantitative", "scale": {"domain": [-4.21, 1.23], "nice": false, "zero": false},
            "axis": {"orient": "right", "values": [-4,-3.5,-3,-2.5,-2,-1.5,-1,-0.5,0,0.5,1], "labelExpr": "datum.value % 1 === 0 ? datum.value + '' : ''", "tickSize": {"condition": {"test": "datum.value % 1 !== 0", "value": 3}, "value": 6}, "tickColor": "#e8453c", "labelColor": "#e8453c", "title": "Average log C* (µg m⁻³)", "titleColor": "#e8453c", "titlePadding": 4}}
     }},
    {"data": {"name": "f_line"},
     "mark": {"type": "point", "shape": "circle", "filled": true, "fill": "#ffffff", "stroke": "#e8453c", "strokeWidth": 1.5, "size": 70, "opacity": 1},
     "encoding": {
      "x": {"field": "m", "type": "nominal", "scale": {"type": "band", "domain": ["Empirical method", "Knetic model", "SIMPOL-Acid group", "Parameterization method"], "paddingInner": 0.13, "paddingOuter": 0.15},
            "axis": {"orient": "top", "labels": false, "tickBand": "extent", "tickSize": 5, "title": null}},
      "y": {"field": "lc", "type": "quantitative", "scale": {"domain": [-4.21, 1.23], "nice": false, "zero": false}, "axis": null}
     }},
    {"data": {"values": [{}]},
     "mark": {"type": "text", "text": "(f)", "fontWeight": "bold", "fontSize": 13, "dx": 4},
     "encoding": {"x": {"datum": "Parameterization method", "type": "nominal", "axis": null}, "y": {"datum": 0.9, "type": "quantitative", "scale": {"domain": [-0.042, 1.046], "nice": false, "zero": false}, "axis": null}}}
   ],
   "resolve": {"scale": {"y": "independent"}, "axis": {"x": "independent", "y": "independent"}}
  }
 ], "spacing": 62, "bounds": "flush",
 "resolve": {"scale": {"color": "independent", "fill": "independent", "stroke": "independent"}, "legend": {"color": "independent", "fill": "independent", "stroke": "independent"}}}
]
}
